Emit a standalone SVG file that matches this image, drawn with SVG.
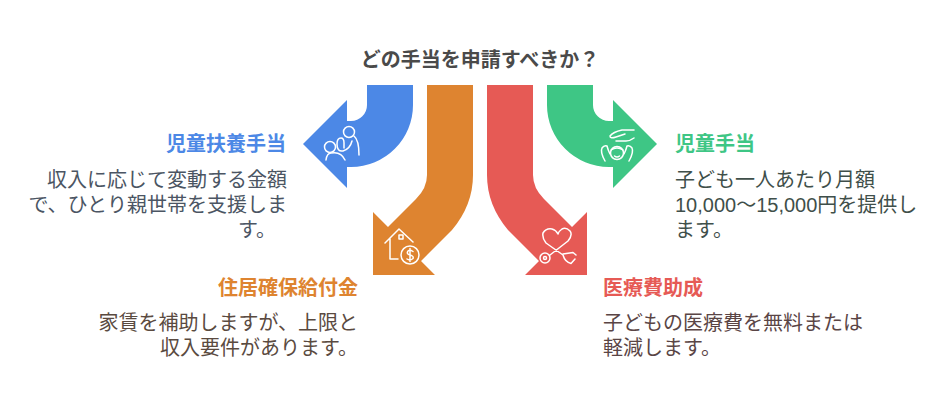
<svg xmlns="http://www.w3.org/2000/svg" width="948" height="408" viewBox="0 0 948 408">
<style>
text{font-family:"Liberation Sans","Noto Sans CJK JP",sans-serif;font-size:20px}
.h{font-weight:700}
.e{text-anchor:end}
.i{fill:none;stroke:#fff;stroke-width:1.5;stroke-linecap:round;stroke-linejoin:round}
</style>
<rect width="948" height="408" fill="#fff"/>
<text id="title" x="480" y="67" text-anchor="middle" class="h" fill="#4a4a4a">どの手当を申請すべきか？</text>
<g id="connectors">
<path id="arrow-blue" fill="#4c88e6" d="M367 85H413V105A62 62 0 0 1 351 167H347V188L303 144L347 100V121H351A16 16 0 0 0 367 105Z"/>
<path id="arrow-green" fill="#3ec685" d="M593 85H547V105A62 62 0 0 0 609 167H613V188L657 144L613 100V121H609A16 16 0 0 1 593 105Z"/>
<path id="arrow-orange" fill="#de8430" d="M427 85H473V175Q473 205 452 230L421 261L435 275H373V212L388 227L416 199Q427 188 427 175Z"/>
<path id="arrow-red" fill="#e65a55" d="M533 85H487V175Q487 205 508 230L539 261L525 275H587V212L572 227L544 199Q533 188 533 175Z"/>
</g>
<g id="node-blue">
<g class="i">
<circle cx="349" cy="132" r="5.5"/>
<circle cx="330" cy="147" r="5.5"/>
<path d="M354 136Q359 140 359 155M337 144Q337 138 341 138Q344 138 344 143V148M337 144Q337 152 343 151Q350 149 352 141"/>
<path d="M326 160Q327 153 331 153Q341 151 345 160"/>
</g>
<text class="h e" x="286" y="151" fill="#4c88e6">児童扶養手当</text>
<text class="e" fill="#4b5563"><tspan x="287" y="187">収入に応じて変動する金額</tspan><tspan x="287" y="212">で、ひとり親世帯を支援しま</tspan><tspan x="276" y="237">す。</tspan></text>
</g>
<g id="node-green">
<g class="i">
<path d="M634 130H622Q613 132 610 136Q610 139 616 137L625 134M616 141H626Q630 141 634 138"/>
<circle cx="617" cy="153" r="6.5"/>
<path d="M611 150Q617 146 623 150M605 161Q600 152 602 148Q604 145 607 146Q608 150 610 154M629 161Q634 152 632 148Q630 145 627 146Q626 150 624 154M614.500 156Q617 158 619.500 156"/>
</g>
<text class="h" x="675" y="151" fill="#3ec685">児童手当</text>
<text fill="#3f4f4a"><tspan x="675" y="187">子ども一人あたり月額</tspan><tspan x="675" y="212">10,000～15,000円を提供し</tspan><tspan x="675" y="237">ます。</tspan></text>
</g>
<g id="node-orange">
<g class="i">
<path d="M385 243L399 229L413 242M390 239V259H398"/>
<rect x="399" y="235" width="4" height="4"/>
<circle cx="410" cy="255" r="9"/>
<path d="M413 251.500Q410 249.500 408 251Q406 254 410 255Q414 256 413 258.500Q410 261 407 259M410 248.500V261.500"/>
</g>
<text class="h e" x="358" y="295" fill="#de8430">住居確保給付金</text>
<text class="e" fill="#5a4a40"><tspan x="358" y="330">家賃を補助しますが、上限と</tspan><tspan x="358" y="355">収入要件があります。</tspan></text>
</g>
<g id="node-red">
<g class="i">
<path d="M550 255L568 241Q573 235 570 231Q566 227 562 229Q559 231 558 234Q556 230 552 229Q546 228 543 233Q542 238 546 243L563 255Q565 262 571 263.500L575 259"/>
<path d="M563 254L573 252.500L576 255"/>
<circle cx="545" cy="258" r="5"/><circle cx="545" cy="258" r="1.500"/>
</g>
<text class="h" x="603" y="295" fill="#e65a55">医療費助成</text>
<text fill="#5a4545"><tspan x="603" y="330">子どもの医療費を無料または</tspan><tspan x="603" y="355">軽減します。</tspan></text>
</g>
</svg>
